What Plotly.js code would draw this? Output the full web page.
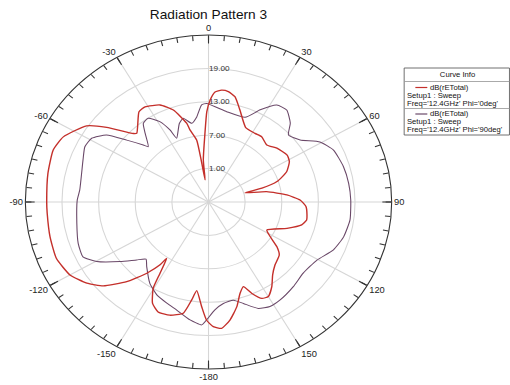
<!DOCTYPE html>
<html>
<head>
<meta charset="utf-8">
<script src="https://cdn.plot.ly/plotly-3.0.1.min.js"></script>
<style>
  html, body { margin: 0; padding: 0; background: #fff; overflow: hidden; }
  /* the chart is laid out at 465px wide and widened to 510px */
  #chart { width: 465px; height: 385px; transform: scaleX(1.0968); transform-origin: 0 0; }
</style>
</head>
<body>
<div id="chart"></div>
<script>
// dB(rETotal), Freq = 12.4 GHz, Phi = 0deg
const thetaPhi0 = [-179.1, -176.6, -173.1, -171.1, -168.3, -162.7, -157.3, -153.3, -149.7, -148.2,
  -145.9, -144.9, -141.7, -136.9, -131.2, -126.2, -120, -112.1, -103.5, -94.4,
  -90, -78.9, -69.8, -63.8, -55.6, -51.2, -45.0, -43.6, -35.1, -31.3,
  -24.5, -19.2, -14.2, -13.2, -9.9, -9.0, -8.0, -6.4, -2.7, -1.0,
  0.8, 3.1, 6.1, 9.3, 12.9, 17.3, 24.5, 31.7, 36.6, 43.0,
  49.2, 56.8, 61.3, 67.0, 71.9, 74.2, 74.6, 79.0, 84.4, 88.6,
  93.0, 98.3, 101.4, 105.1, 110.2, 117.8, 121.7, 125.7, 129.4, 136.1,
  141.3, 145.7, 150.0, 153.2, 156.6, 159.4, 162.5, 166.2, 170.6, 174.6, 178.0];
const rPhi0 = [16.2, 13.85, 11.05, 12.8, 15.4, 16.3, 16.4, 15.4, 12.95, 10.1,
  7.2, 8.8, 11.3, 14.6, 17.9, 19.7, 21.2, 21.9, 21.7, 21.5,
  21.5, 21.8, 22.1, 21.5, 19.2, 16.4, 12.4, 12.05, 14.8, 15.0,
  14.15, 12.5, 9.6, 8.3, 6.3, 2.3, -1.0, 2.6, 7.35, 11.2,
  13.3, 14.8, 15.2, 15.1, 14.4, 12.3, 9.7, 9.5, 9.6, 9.0,
  9.8, 10.4, 10.1, 8.9, 6.8, 4.1, 1.2, 4.7, 7.9, 10.0,
  11.0, 11.3, 11.4, 10.8, 8.7, 5.8, 6.9, 8.8, 10.0, 10.7,
  11.8, 13.4, 14.6, 14.4, 12.9, 11.25, 12.2, 14.4, 16.5, 17.8, 17.4];

// dB(rETotal), Freq = 12.4 GHz, Phi = 90deg
const thetaPhi90 = [-179.1, -177.1, -171.9, -165.0, -159.4, -153.1, -146.7, -138.9, -135.1, -131.5,
  -126.5, -120.3, -115.6, -109.2, -100.0, -89.0, -84.2, -69.8, -63.9, -59.1,
  -54.2, -50.3, -46.2, -44.8, -40.1, -37.1, -33.3, -28.9, -26.0, -24.5,
  -18.7, -15.4, -11.0, -7.2, -3.7, -1.0, 10.4, 21.5, 27.1, 32.7,
  37.8, 43.4, 47.4, 53.4, 59.4, 65.5, 74.0, 81.7, 89.1, 97.9,
  105.8, 112.8, 120.4, 129.5, 137.6, 146.3, 151.8, 156.9, 162.6, 167.0,
  172.4, 176.9];
const rPhi90 = [16.2, 17.1, 16.4, 15.1, 14.4, 13.7, 12.5, 10.4, 9.5, 10.7,
  13.0, 16.2, 17.8, 17.6, 16.9, 16.5, 16.2, 16.9, 17.55, 17.3,
  15.6, 12.4, 9.8, 9.0, 11.1, 12.7, 13.0, 11.5, 9.4, 7.6,
  9.9, 10.6, 9.4, 10.4, 12.5, 12.7, 11.5, 11.35, 13.6, 15.7,
  15.9, 14.5, 12.8, 13.7, 16.2, 17.5, 18.0, 18.2, 18.3, 18.4,
  18.0, 17.2, 15.6, 15.1, 15.6, 16.15, 16.3, 15.8, 14.1, 13.1,
  13.4, 14.4];

// axes
const radialRange = [-5, 25];
const radialTickVals = [1, 7, 13, 19];
const angularTickVals = [0, 30, 60, 90, 120, 150, 180, 210, 240, 270, 300, 330];
const angularTickText = ['0', '30', '60', '90', '120', '150', '-180', '-150', '-120', '-90', '-60', '-30'];
const minorTickStep = 5;

// legend entries
const legendTitle = 'Curve Info';
const legendEntries = [
  ['dB(rETotal)', 'Setup1 : Sweep', "Freq='12.4GHz' Phi='0deg'"],
  ['dB(rETotal)', 'Setup1 : Sweep', "Freq='12.4GHz' Phi='90deg'"]
];

const RED = '#c4302b';
const PURPLE = '#6a4868';
const FONT = 'Liberation Sans, Arial, sans-serif';

const W = 465, H = 385;
const cx = 208.5 * W / 510, cy = 202, R = 167;
const domX = [(cx - R) / W, (cx + R) / W];
const domY = [(H - cy - R) / H, (H - cy + R) / H];

const closeLoop = a => a.concat([a[0]]);
const minorTicks = [];
for (let a = 0; a < 360; a += minorTickStep) minorTicks.push(a);

const data = [
  {
    type: 'scatterpolar', subplot: 'polar', mode: 'lines',
    theta: closeLoop(thetaPhi90), r: closeLoop(rPhi90),
    line: { color: PURPLE, width: 1, shape: 'spline', smoothing: 0.5 }, hoverinfo: 'skip'
  },
  {
    type: 'scatterpolar', subplot: 'polar2', mode: 'lines',
    theta: closeLoop(thetaPhi0), r: closeLoop(rPhi0),
    line: { color: RED, width: 1.3, shape: 'spline', smoothing: 0.5 }, hoverinfo: 'skip'
  }
];

const px = x => x / W;
const py = y => 1 - y / H;

// legend box drawn with shapes and annotations
const LEG_FONT = { family: FONT, size: 7, color: '#111' };
const box = { x0: 368.5, x1: 464.5, y0: 68, y1: 135 };
const rowGap = 8;
const entryTop = [87.5, 114];
const shapes = [
  { type: 'rect', xref: 'paper', yref: 'paper', x0: px(box.x0), x1: px(box.x1), y0: py(box.y0), y1: py(box.y1),
    line: { color: '#555', width: 0.8 }, fillcolor: '#fff' },
  { type: 'line', xref: 'paper', yref: 'paper', x0: px(box.x0), x1: px(box.x1), y0: py(81.5), y1: py(81.5),
    line: { color: '#999', width: 0.8 } },
  { type: 'line', xref: 'paper', yref: 'paper', x0: px(box.x0), x1: px(box.x1), y0: py(108.5), y1: py(108.5),
    line: { color: '#999', width: 0.8 } }
];
const annotations = [
  { xref: 'paper', yref: 'paper', x: px((box.x0 + box.x1) / 2), y: py(75), text: legendTitle,
    showarrow: false, xanchor: 'center', yanchor: 'middle', font: LEG_FONT, borderpad: 0 }
];
const sampleColors = [RED, PURPLE];
legendEntries.forEach((rows, i) => {
  const y0 = entryTop[i];
  shapes.push({ type: 'line', xref: 'paper', yref: 'paper', x0: px(378.7), x1: px(389.6), y0: py(y0), y1: py(y0),
    line: { color: sampleColors[i], width: 1.2 } });
  annotations.push({ xref: 'paper', yref: 'paper', x: px(390.5), y: py(y0), text: rows[0], showarrow: false,
    xanchor: 'left', yanchor: 'middle', font: LEG_FONT, borderpad: 0 });
  annotations.push({ xref: 'paper', yref: 'paper', x: px(369.6), y: py(y0 + rowGap), text: rows[1], showarrow: false,
    xanchor: 'left', yanchor: 'middle', font: LEG_FONT, borderpad: 0 });
  annotations.push({ xref: 'paper', yref: 'paper', x: px(369.6), y: py(y0 + 2 * rowGap), text: rows[2], showarrow: false,
    xanchor: 'left', yanchor: 'middle', font: LEG_FONT, borderpad: 0 });
});

const layout = {
  width: W, height: H,
  margin: { l: 0, r: 0, t: 0, b: 0 },
  paper_bgcolor: '#fff',
  showlegend: false,
  title: {
    text: 'Radiation Pattern 3',
    x: cx / W, xanchor: 'center', y: 1 - 14.5 / H, yanchor: 'middle', yref: 'container',
    font: { family: FONT, size: 12.5, color: '#111' }
  },
  polar: {
    domain: { x: domX, y: domY },
    bgcolor: 'rgba(0,0,0,0)',
    radialaxis: {
      range: radialRange, tickmode: 'array', tickvals: radialTickVals, tickformat: '.2f',
      angle: 90, tickangle: 90, showline: false, ticks: '',
      gridcolor: '#d6d6d6', gridwidth: 1,
      tickfont: { family: FONT, size: 7.5, color: '#333' }
    },
    angularaxis: {
      rotation: 90, direction: 'clockwise', thetaunit: 'degrees',
      tickmode: 'array', tickvals: angularTickVals, ticktext: angularTickText,
      ticks: 'inside', ticklen: 8, tickwidth: 1, tickcolor: '#333',
      showline: true, linecolor: '#333', linewidth: 1,
      gridcolor: '#d6d6d6', gridwidth: 1,
      tickfont: { family: FONT, size: 8.5, color: '#222' }
    }
  },
  polar2: {
    domain: { x: domX, y: domY },
    bgcolor: 'rgba(0,0,0,0)',
    radialaxis: { range: radialRange, visible: false },
    angularaxis: {
      rotation: 90, direction: 'clockwise', thetaunit: 'degrees',
      tickmode: 'array', tickvals: minorTicks, showticklabels: false,
      ticks: 'inside', ticklen: 5, tickwidth: 1, tickcolor: '#333',
      showline: false, showgrid: false
    }
  },
  shapes: shapes,
  annotations: annotations
};

Plotly.newPlot('chart', data, layout, { staticPlot: true, displayModeBar: false });
</script>
</body>
</html>
